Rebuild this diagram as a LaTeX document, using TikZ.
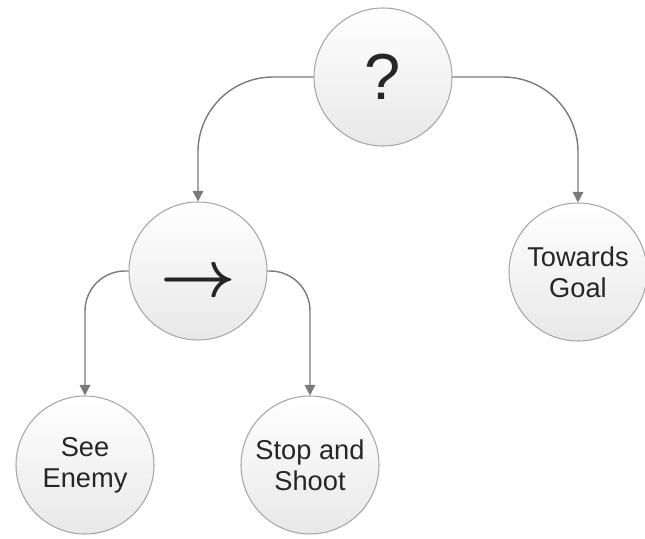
\documentclass[tikz,border=0pt]{standalone}
\usepackage{fontspec}
\setmainfont{Liberation Sans}
\usetikzlibrary{arrows.meta}

\definecolor{edgegray}{HTML}{7A7A7A}
\definecolor{rimgray}{HTML}{A6A6A6}
\definecolor{textgray}{HTML}{262626}

\tikzset{every node/.style={circle, draw=rimgray, line width=0.6pt, top color=white, bottom color=black!9, minimum size=2.76cm, inner sep=0pt, align=center, text=textgray, font=\fontsize{15.5}{17.5}\selectfont}}

\begin{document}
\begin{tikzpicture}[link/.style={draw=edgegray, line width=0.8pt, -{Triangle[width=6pt, length=6pt]}}]
			\useasboundingbox (0,0) rectangle (12.9,10.76);
			% Define vertices
			\node (Sel) at (7.66,9.22) {\fontsize{37}{37}\selectfont ?};
			\node (Seq) at (3.96,5.34) {\raisebox{-7pt}[\height][\depth]{\scalebox{2.6}{\boldmath$\rightarrow$}}};
			\node (Goal) at (11.56,5.32) {Towards\\Goal};
			\node (See) at (1.70,1.46) {See\\Enemy};
			\node (Shoot) at (6.20,1.46) {Stop and\\Shoot};
			
			% Edges from Sel to its children
			\draw[link, rounded corners=1.5cm] (Sel.west) -| (Seq.north);
			\draw[link, rounded corners=1.5cm] (Sel.east) -| (Goal.north);
			
			% Edges from Seq to its children
			\draw[link, rounded corners=0.8cm] (Seq.west) -| (See.north);
			\draw[link, rounded corners=0.8cm] (Seq.east) -| (Shoot.north);
			
		\end{tikzpicture}
\end{document}
